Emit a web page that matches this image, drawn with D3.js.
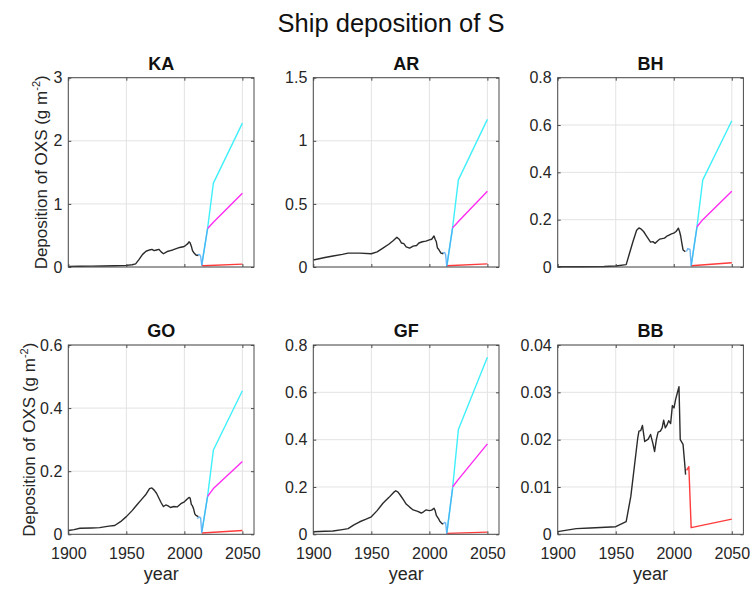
<!DOCTYPE html>
<html>
<head>
<meta charset="utf-8">
<script src="https://cdn.jsdelivr.net/npm/d3@7"></script>
<style>
  html, body { margin: 0; padding: 0; background: #fff; }
  svg { display: block; font-family: "Liberation Sans", Arial, Helvetica, sans-serif; }
</style>
</head>
<body>
<svg id="chart" width="753" height="589"></svg>
<script>
// ---------------- DATA ----------------
const panelNames = ["KA", "AR", "BH", "GO", "GF", "BB"];
const xTicks = [1900, 1950, 2000, 2050];
const xDomain = [1900, 2060];
const yDomains = [[0, 3], [0, 1.5], [0, 0.8], [0, 0.6], [0, 0.8], [0, 0.04]];
const yTickLabels = [
  [0, 1, 2, 3],
  [0, 0.5, 1, 1.5],
  [0, 0.2, 0.4, 0.6, 0.8],
  [0, 0.2, 0.4, 0.6],
  [0, 0.2, 0.4, 0.6, 0.8],
  [0, 0.01, 0.02, 0.03, 0.04]
];

// historical (black)
const histKA = [[1900,0.01],[1910,0.012],[1920,0.014],[1930,0.017],[1940,0.02],[1950,0.025],[1955,0.035],[1958,0.05],[1961,0.12],[1964,0.2],[1967,0.25],[1970,0.27],[1972,0.28],[1974,0.26],[1976,0.27],[1978,0.28],[1980,0.24],[1982,0.21],[1984,0.23],[1986,0.25],[1988,0.26],[1990,0.27],[1993,0.29],[1996,0.31],[1999,0.32],[2001,0.34],[2003,0.37],[2004,0.4],[2005,0.38],[2006,0.33],[2007,0.26],[2008,0.23],[2010,0.19],[2012,0.18]];
const histAR = [[1900,0.055],[1905,0.065],[1910,0.075],[1917,0.087],[1925,0.1],[1930,0.11],[1940,0.11],[1950,0.105],[1955,0.12],[1960,0.15],[1965,0.18],[1969,0.21],[1972,0.235],[1974,0.22],[1976,0.19],[1978,0.185],[1980,0.16],[1983,0.15],[1986,0.165],[1989,0.17],[1991,0.19],[1994,0.2],[1997,0.205],[2000,0.215],[2002,0.22],[2004,0.246],[2005,0.22],[2006,0.2],[2007,0.15],[2008,0.14],[2010,0.11],[2012,0.105]];
const histBH = [[1900,0.001],[1920,0.001],[1940,0.002],[1950,0.004],[1959,0.01],[1962,0.06],[1965,0.11],[1968,0.155],[1970,0.165],[1972,0.16],[1974,0.15],[1976,0.135],[1978,0.12],[1980,0.105],[1982,0.107],[1984,0.1],[1986,0.11],[1988,0.118],[1990,0.12],[1992,0.122],[1994,0.13],[1996,0.135],[1998,0.14],[2000,0.143],[2002,0.15],[2004,0.164],[2005,0.15],[2006,0.13],[2007,0.1],[2008,0.072],[2010,0.065]];
const histGO = [[1900,0.012],[1905,0.015],[1910,0.019],[1920,0.02],[1927,0.021],[1935,0.026],[1940,0.028],[1945,0.04],[1950,0.056],[1955,0.075],[1959,0.093],[1963,0.11],[1967,0.127],[1970,0.145],[1972,0.147],[1974,0.14],[1976,0.13],[1978,0.115],[1980,0.1],[1982,0.088],[1984,0.093],[1986,0.09],[1988,0.085],[1991,0.088],[1994,0.087],[1997,0.097],[2000,0.103],[2002,0.11],[2004,0.117],[2005,0.115],[2006,0.095],[2007,0.09],[2008,0.08],[2009,0.065],[2010,0.06],[2012,0.056]];
const histGF = [[1900,0.011],[1910,0.013],[1917,0.014],[1925,0.02],[1930,0.024],[1935,0.04],[1940,0.053],[1945,0.063],[1950,0.074],[1955,0.1],[1960,0.131],[1965,0.155],[1969,0.176],[1971,0.184],[1973,0.178],[1975,0.165],[1978,0.143],[1980,0.128],[1983,0.115],[1986,0.103],[1990,0.097],[1993,0.09],[1995,0.095],[1997,0.103],[2000,0.1],[2002,0.102],[2004,0.11],[2005,0.1],[2006,0.08],[2008,0.065],[2009,0.055],[2011,0.045],[2012,0.043]];
const histBB = [[1900,0.00057],[1916,0.0012],[1928,0.00134],[1950,0.0016],[1959,0.0027],[1963,0.008],[1969,0.0204],[1970,0.0218],[1971.5,0.0219],[1973,0.023],[1975,0.0196],[1978,0.0201],[1980,0.0211],[1982,0.0192],[1983.5,0.0175],[1985,0.02],[1986.5,0.0216],[1988.5,0.0218],[1990,0.0225],[1991.3,0.0241],[1992.7,0.0225],[1994,0.023],[1995.6,0.024],[1997.3,0.0234],[1998.8,0.0272],[2000.2,0.0267],[2001.6,0.0285],[2003,0.0298],[2004.5,0.0312],[2005.6,0.02],[2008,0.019],[2009.4,0.015],[2010.2,0.0126]];

// transition (blue)
const transKA = [[2011,0.19],[2013,0.2],[2014,0.17],[2015,0.03],[2020,0.61]];
const transAR = [[2011,0.11],[2013,0.115],[2014,0.1],[2015,0.005],[2020,0.31]];
const transBH = [[2011,0.065],[2012,0.078],[2014,0.074],[2015,0.005],[2020,0.17]];
const transGO = [[2011,0.05],[2013,0.055],[2014,0.052],[2015,0.006],[2020,0.12]];
const transGF = [[2012,0.045],[2013,0.05],[2014,0.048],[2015,0.004],[2020,0.194]];
const transBB = [];

// high scenario (cyan)
const highKA = [[2015,0.03],[2020,0.61],[2025,1.33],[2050,2.28]];
const highAR = [[2015,0.005],[2020,0.31],[2025,0.69],[2050,1.17]];
const highBH = [[2015,0.005],[2020,0.17],[2025,0.368],[2050,0.618]];
const highGO = [[2015,0.006],[2020,0.12],[2025,0.267],[2050,0.455]];
const highGF = [[2015,0.004],[2020,0.194],[2025,0.443],[2050,0.748]];
const highBB = [];

// medium scenario (magenta)
const medKA = [[2020,0.61],[2025,0.71],[2050,1.17]];
const medAR = [[2020,0.31],[2025,0.36],[2050,0.6]];
const medBH = [[2020,0.17],[2025,0.2],[2050,0.32]];
const medGO = [[2020,0.12],[2025,0.145],[2050,0.231]];
const medGF = [[2020,0.2],[2025,0.232],[2050,0.382]];
const medBB = [];

// low scenario (red)
const lowKA = [[2015,0.03],[2016,0.02],[2050,0.045]];
const lowAR = [[2015,0.01],[2050,0.025]];
const lowBH = [[2015,0.005],[2050,0.018]];
const lowGO = [[2015,0.004],[2050,0.012]];
const lowGF = [[2015,0.004],[2050,0.009]];
const lowBB = [[2011,0.0135],[2013,0.0143],[2015,0.0014],[2050,0.0032]];

const histAll = [histKA, histAR, histBH, histGO, histGF, histBB];
const transAll = [transKA, transAR, transBH, transGO, transGF, transBB];
const highAll = [highKA, highAR, highBH, highGO, highGF, highBB];
const medAll = [medKA, medAR, medBH, medGO, medGF, medBB];
const lowAll = [lowKA, lowAR, lowBH, lowGO, lowGF, lowBB];

// ---------------- LAYOUT ----------------
const colLeft = [68.3, 313.3, 557.7];
const rowTop = [77.7, 345];
const ylabelX = [47, 35];
const pw = 185.7, ph = 189.3;
const textColor = "#262626";

const svg = d3.select("#chart");

svg.append("text")
  .attr("x", 391).attr("y", 32)
  .attr("text-anchor", "middle")
  .attr("font-size", 25.5)
  .attr("fill", "#111")
  .text("Ship deposition of S");

panelNames.forEach((name, i) => {
  const col = i % 3, row = Math.floor(i / 3);
  const g = svg.append("g").attr("transform", `translate(${colLeft[col]},${rowTop[row]})`);
  const x = d3.scaleLinear().domain(xDomain).range([0, pw]);
  const y = d3.scaleLinear().domain(yDomains[i]).range([ph, 0]);

  // grid
  g.append("g").selectAll("line").data(xTicks).join("line")
    .attr("x1", d => x(d)).attr("x2", d => x(d))
    .attr("y1", 0).attr("y2", ph)
    .attr("stroke", "#e3e3e3").attr("stroke-width", 1);
  g.append("g").selectAll("line").data(yTickLabels[i]).join("line")
    .attr("x1", 0).attr("x2", pw)
    .attr("y1", d => y(d)).attr("y2", d => y(d))
    .attr("stroke", "#e3e3e3").attr("stroke-width", 1);

  // lines
  const line = d3.line().x(d => x(d[0])).y(d => y(d[1]));
  const series = [
    [highAll[i], "#3ff0fb", 1],
    [medAll[i], "#ff2cf2", 1],
    [lowAll[i], "#ff3b3b", 1],
    [transAll[i], "#4aa6f2", 0.8],
    [histAll[i], "#2b2b2b", 1]
  ];
  series.forEach(([data, color, op]) => {
    if (!data.length) return;
    g.append("path").datum(data)
      .attr("d", line)
      .attr("fill", "none")
      .attr("stroke", color)
      .attr("stroke-opacity", op)
      .attr("stroke-width", 1.4)
      .attr("stroke-linejoin", "round");
  });

  // axes
  const ax = g.append("g").attr("transform", `translate(0,${ph})`)
    .call(d3.axisBottom(x).tickValues(xTicks).tickSize(-3).tickPadding(13)
      .tickFormat(row === 1 ? d3.format("d") : () => ""));
  const ay = g.append("g")
    .call(d3.axisLeft(y).tickValues(yTickLabels[i]).tickSize(-3).tickPadding(6)
      .tickFormat(d => String(d)));
  const axT = g.append("g")
    .call(d3.axisTop(x).tickValues(xTicks).tickSize(-3).tickFormat(() => ""));
  const ayR = g.append("g").attr("transform", `translate(${pw},0)`)
    .call(d3.axisRight(y).tickValues(yTickLabels[i]).tickSize(-3).tickFormat(() => ""));
  [ax, ay, axT, ayR].forEach(a => {
    a.select(".domain").remove();
    a.selectAll("line").attr("stroke", "#4a4a4a");
    a.selectAll("text").attr("fill", textColor).attr("font-size", 16)
      .attr("font-family", '"Liberation Sans", Arial, Helvetica, sans-serif');
  });

  // box
  g.append("rect").attr("x", 0).attr("y", 0).attr("width", pw).attr("height", ph)
    .attr("fill", "none").attr("stroke", "#4a4a4a").attr("stroke-width", 1);

  // panel title
  g.append("text").attr("x", pw / 2).attr("y", -8)
    .attr("text-anchor", "middle").attr("font-weight", "bold")
    .attr("font-size", 18).attr("fill", "#111").text(name);

  if (row === 1) {
    g.append("text").attr("x", pw / 2).attr("y", ph + 46)
      .attr("text-anchor", "middle").attr("font-size", 18)
      .attr("fill", textColor).text("year");
  }
  if (col === 0) {
    const t = svg.append("text")
      .attr("transform", `translate(${ylabelX[row]},${rowTop[row] + ph / 2}) rotate(-90)`)
      .attr("text-anchor", "middle").attr("font-size", 17)
      .attr("fill", textColor);
    t.append("tspan").text("Deposition of OXS (g m");
    t.append("tspan").attr("font-size", 11).attr("dy", -7).text("-2");
    t.append("tspan").attr("dy", 7).text(")");
  }
});
</script>
</body>
</html>
